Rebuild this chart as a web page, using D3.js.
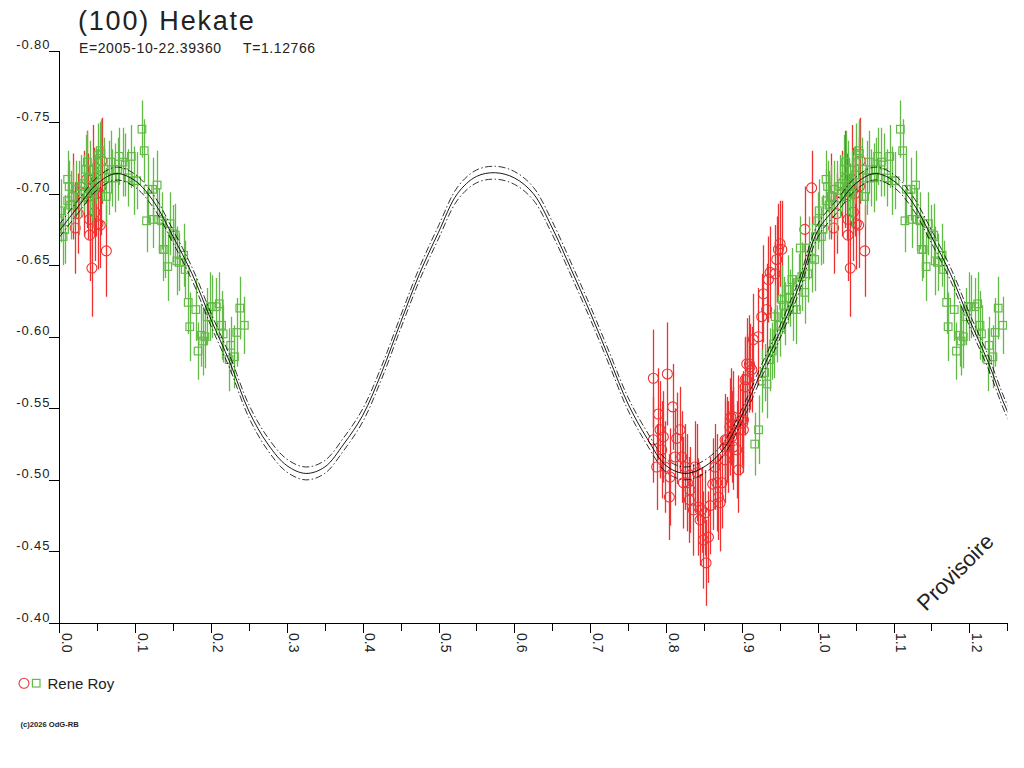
<!DOCTYPE html>
<html><head><meta charset="utf-8">
<script src="https://cdn.jsdelivr.net/npm/d3@7"></script>
<style>body{margin:0;background:#fff}svg{display:block}text{font-family:"Liberation Sans",Arial,sans-serif}</style>
</head><body><svg id="c" width="1024" height="768"></svg>
<script>
// ---------- texts ----------
const titleText = "(100) Hekate";
const epochText = "E=2005-10-22.39360";
const periodText = "T=1.12766";
const observerName = "Rene Roy";
const watermark = "Provisoire";
const copyright = "(c)2026 OdG-RB";

// ---------- ticks ----------
const yTickValues = [-0.80,-0.75,-0.70,-0.65,-0.60,-0.55,-0.50,-0.45,-0.40];
const xTickValues = [0,0.05,0.1,0.15,0.2,0.25,0.3,0.35,0.4,0.45,0.5,0.55,0.6,0.65,0.7,0.75,0.8,0.85,0.9,0.95,1.0,1.05,1.1,1.15,1.2,1.25];
const xTickLabels = ["0.0","0.1","0.2","0.3","0.4","0.5","0.6","0.7","0.8","0.9","1.0","1.1","1.2"];

// ---------- fitted curve ----------
const curvePhase = [0,0.025,0.05,0.075,0.1,0.125,0.15,0.175,0.2,0.225,0.25,0.275,0.3,0.325,0.35,0.375,0.4,0.425,0.45,0.475,0.5,0.525,0.55,0.575,0.6,0.625,0.65,0.675,0.7,0.725,0.75,0.775,0.8,0.825,0.85,0.875,0.9,0.925,0.95,0.975,1.0];
const curveMag = [-0.674,-0.691,-0.707,-0.714,-0.709,-0.694,-0.670,-0.644,-0.612,-0.582,-0.548,-0.525,-0.510,-0.5045,-0.509,-0.525,-0.545,-0.575,-0.610,-0.644,-0.673,-0.700,-0.712,-0.7146,-0.711,-0.700,-0.676,-0.647,-0.617,-0.585,-0.553,-0.529,-0.510,-0.5045,-0.509,-0.521,-0.545,-0.575,-0.603,-0.635,-0.674];
const curveSpread = 0.0045;

// ---------- observations: session 1 (green squares) ----------
const greenPhase = [0.000,0.002,0.005,0.007,0.011,0.011,0.013,0.015,0.018,0.022,0.026,0.029,0.032,0.035,0.037,0.040,0.043,0.045,0.047,0.049,0.051,0.054,0.055,0.059,0.062,0.065,0.068,0.070,0.074,0.077,0.079,0.084,0.087,0.091,0.095,0.098,0.102,0.109,0.112,0.115,0.117,0.123,0.124,0.129,0.131,0.135,0.137,0.139,0.143,0.146,0.150,0.153,0.155,0.158,0.164,0.166,0.170,0.172,0.180,0.183,0.187,0.189,0.192,0.195,0.199,0.202,0.207,0.211,0.214,0.216,0.224,0.226,0.231,0.234,0.238,0.244,
0.917,0.922,0.926,0.930,0.933,0.937,0.940,0.942,0.944,0.946,0.950,0.953,0.955,0.957,0.961,0.963,0.966,0.968,0.972,0.975,0.977,0.979,0.983,0.987,0.988,0.992,0.996,0.997];
const greenMag = [-0.681,-0.688,-0.670,-0.675,-0.695,-0.710,-0.705,-0.692,-0.698,-0.703,-0.697,-0.705,-0.707,-0.717,-0.722,-0.711,-0.701,-0.700,-0.705,-0.713,-0.727,-0.730,-0.728,-0.717,-0.698,-0.711,-0.722,-0.711,-0.711,-0.717,-0.726,-0.722,-0.720,-0.711,-0.726,-0.709,-0.709,-0.745,-0.730,-0.681,-0.703,-0.703,-0.682,-0.706,-0.682,-0.681,-0.661,-0.661,-0.649,-0.679,-0.672,-0.671,-0.653,-0.652,-0.657,-0.647,-0.624,-0.607,-0.619,-0.590,-0.601,-0.597,-0.600,-0.614,-0.621,-0.621,-0.621,-0.623,-0.608,-0.602,-0.584,-0.594,-0.586,-0.603,-0.620,-0.608,
-0.525,-0.535,-0.569,-0.575,-0.567,-0.584,-0.590,-0.595,-0.614,-0.602,-0.608,-0.626,-0.622,-0.616,-0.633,-0.627,-0.640,-0.619,-0.619,-0.638,-0.662,-0.642,-0.631,-0.644,-0.662,-0.655,-0.654,-0.670];
const greenErr = [0.020,0.022,0.020,0.024,0.022,0.020,0.018,0.024,0.022,0.020,0.026,0.022,0.020,0.024,0.022,0.026,0.020,0.024,0.022,0.020,0.022,0.020,0.024,0.022,0.020,0.026,0.022,0.020,0.024,0.022,0.020,0.024,0.022,0.020,0.022,0.024,0.020,0.020,0.022,0.022,0.024,0.022,0.020,0.024,0.022,0.020,0.022,0.020,0.024,0.022,0.020,0.022,0.024,0.020,0.022,0.020,0.022,0.024,0.022,0.020,0.022,0.024,0.022,0.020,0.024,0.022,0.020,0.022,0.024,0.020,0.022,0.020,0.022,0.024,0.022,0.020,
0.022,0.024,0.022,0.020,0.024,0.022,0.020,0.024,0.022,0.020,0.022,0.024,0.020,0.022,0.024,0.020,0.022,0.022,0.024,0.020,0.022,0.024,0.022,0.020,0.022,0.024,0.022,0.020];

// ---------- observations: session 2 (red circles) ----------
const redPhase = [0.018,0.021,0.025,0.032,0.036,0.038,0.040,0.040,0.043,0.045,0.046,0.047,0.049,0.051,0.054,0.055,0.056,0.062,
0.7833,0.8018,0.8088,0.7899,0.7921,0.7833,0.7965,0.7943,0.7877,0.7987,0.8053,0.8044,0.8141,0.8185,0.8119,0.8207,0.8251,0.8229,0.8282,0.8317,0.8383,0.8414,0.8308,0.8361,0.8427,0.8471,0.8449,0.8515,0.8493,0.8559,0.8528,0.8581,0.8616,0.8647,0.8669,0.8691,0.8735,0.8713,0.8779,0.8823,0.8854,0.8889,0.8867,0.8933,0.8955,0.8977,0.9021,0.9043,0.9065,0.9100,0.9131,0.8779,
0.8778,0.8800,0.8844,0.8888,0.8888,0.8954,0.8998,0.9020,0.9064,0.9042,0.9108,0.9152,0.9218,0.9262,0.9328,0.9284,0.9350,0.9372,0.9438,0.9460,0.9482,0.9526,0.9504,0.983,0.992];
const redMag = [-0.698,-0.676,-0.686,-0.700,-0.710,-0.698,-0.671,-0.682,-0.648,-0.716,-0.702,-0.687,-0.700,-0.679,-0.678,-0.705,-0.723,-0.660,
-0.571,-0.574,-0.551,-0.546,-0.535,-0.528,-0.530,-0.521,-0.509,-0.509,-0.502,-0.488,-0.529,-0.535,-0.516,-0.516,-0.509,-0.498,-0.498,-0.493,-0.509,-0.505,-0.486,-0.479,-0.481,-0.479,-0.472,-0.477,-0.458,-0.460,-0.442,-0.482,-0.497,-0.509,-0.498,-0.488,-0.498,-0.484,-0.514,-0.523,-0.544,-0.535,-0.530,-0.521,-0.507,-0.535,-0.542,-0.570,-0.581,-0.581,-0.577,-0.528,
-0.523,-0.528,-0.537,-0.544,-0.523,-0.539,-0.542,-0.535,-0.570,-0.565,-0.579,-0.598,-0.600,-0.614,-0.619,-0.630,-0.640,-0.645,-0.644,-0.654,-0.661,-0.661,-0.665,-0.675,-0.704];
const redErr = [0.030,0.032,0.028,0.030,0.034,0.030,0.032,0.030,0.034,0.032,0.030,0.034,0.030,0.032,0.030,0.034,0.030,0.032,
0.034,0.036,0.030,0.032,0.034,0.030,0.032,0.034,0.030,0.032,0.034,0.030,0.032,0.030,0.034,0.032,0.030,0.032,0.034,0.030,0.032,0.034,0.030,0.032,0.034,0.030,0.032,0.030,0.034,0.032,0.030,0.034,0.032,0.030,0.034,0.030,0.032,0.034,0.030,0.032,0.034,0.030,0.032,0.034,0.030,0.032,0.034,0.030,0.032,0.034,0.030,0.032,
0.032,0.030,0.034,0.032,0.030,0.034,0.032,0.030,0.032,0.034,0.030,0.032,0.034,0.030,0.032,0.034,0.030,0.032,0.034,0.030,0.032,0.034,0.030,0.030,0.026];

// ---------- layout ----------
const svg = d3.select("#c");
const X0 = 59.3, X1 = 1007.3, Y0 = 50.5, Y1 = 623;
const x = d3.scaleLinear().domain([0, 1.25]).range([X0, X1]);
const y = d3.scaleLinear().domain([-0.80, -0.40]).range([Y0, Y1]);
const GREEN = "#63bb47", RED = "#ee3232", INK = "#222";

svg.append("defs").append("clipPath").attr("id","plot")
  .append("rect").attr("x",X0).attr("y",0).attr("width",X1-X0).attr("height",Y1);

// repeat phases 0..0.25 beyond 1
function build(ph, mg, er) {
  const pts = ph.map((p,i)=>({p, m:mg[i], e:er[i]}));
  return pts.flatMap(d => d.p < 0.25 ? [d, {p:d.p+1, m:d.m, e:d.e}] : [d]);
}
const greenPts = build(greenPhase, greenMag, greenErr);
const redPts = build(redPhase, redMag, redErr);

const dataG = svg.append("g").attr("clip-path","url(#plot)");
function drawSeries(pts, color, shape) {
  const g = dataG.append("g");
  g.selectAll("line").data(pts).join("line")
    .attr("x1", d=>Math.round(x(d.p))+0.5).attr("x2", d=>Math.round(x(d.p))+0.5)
    .attr("y1", d=>y(d.m-d.e)).attr("y2", d=>y(d.m+d.e))
    .attr("stroke", color).attr("stroke-width", 1.3);
  if (shape === "circle") {
    g.selectAll("circle").data(pts).join("circle")
      .attr("cx", d=>x(d.p)).attr("cy", d=>y(d.m)).attr("r", 5)
      .attr("fill","none").attr("stroke", color).attr("stroke-width", 1.1);
  } else {
    g.selectAll("rect").data(pts).join("rect")
      .attr("x", d=>x(d.p)-3.8).attr("y", d=>y(d.m)-3.8).attr("width",7.6).attr("height",7.6)
      .attr("fill","none").attr("stroke", color).attr("stroke-width", 1.2);
  }
}
drawSeries(redPts, RED, "circle");
drawSeries(greenPts, GREEN, "square");

// fitted curve, repeated after phase 1
const curvePts = curvePhase.map((p,i)=>({p, m:curveMag[i]}));
const curveExt = curvePts.concat(curvePts.filter(d=>d.p>0 && d.p<=0.3).map(d=>({p:d.p+1, m:d.m})));
const line = d3.line().x(d=>x(d.p)).y(d=>y(d.m)).curve(d3.curveCatmullRom);
const cg = svg.append("g").attr("clip-path","url(#plot)").attr("fill","none").attr("stroke","#000");
cg.append("path").attr("d", line(curveExt)).attr("stroke-width",0.9);
[-curveSpread, curveSpread].forEach(o=>{
  cg.append("path").attr("d", line(curveExt.map(d=>({p:d.p, m:d.m+o}))))
    .attr("stroke-width",0.8).attr("stroke-dasharray","7,2.5,1.5,2.5");
});

// ---------- axes ----------
const yAxis = d3.axisLeft(y).tickValues(yTickValues).tickSize(10).tickSizeOuter(0)
  .tickFormat(d=>d.toFixed(2));
const ya = svg.append("g").attr("transform",`translate(${X0},0)`).call(yAxis);
ya.attr("font-family",null).attr("font-size",null);
ya.select(".domain").attr("stroke","#000").attr("shape-rendering","crispEdges");
ya.selectAll(".tick line").attr("stroke","#000").attr("shape-rendering","crispEdges");
ya.selectAll(".tick text").attr("x",-9).attr("y",-2).attr("dy",0)
  .attr("fill",INK).style("font-size","13px").style("letter-spacing","0.9px")
  .style("font-family",'"Liberation Sans",Arial,sans-serif');

const xAxis = d3.axisBottom(x).tickValues(xTickValues).tickSize(9).tickSizeOuter(0)
  .tickFormat(d=>{ const k = Math.round(d*20); return k%2===0 ? xTickLabels[k/2] : ""; });
const xa = svg.append("g").attr("transform",`translate(0,${Y1})`).call(xAxis);
xa.attr("font-family",null).attr("font-size",null);
xa.select(".domain").attr("stroke","#000").attr("shape-rendering","crispEdges");
xa.selectAll(".tick line").attr("stroke","#000").attr("shape-rendering","crispEdges")
  .attr("y2", d=> Math.round(d*20)%2===0 ? 10 : 8);
xa.selectAll(".tick text").attr("y",0).attr("dy",0)
  .attr("transform","translate(2,10) rotate(90)")
  .attr("text-anchor","start").attr("fill",INK)
  .style("font-size","14px").style("font-family",'"Liberation Sans",Arial,sans-serif');

// ---------- titles ----------
svg.append("text").attr("x",78).attr("y",30).text(titleText)
  .attr("fill",INK).style("font-size","27px").style("letter-spacing","1.8px");
svg.append("text").attr("x",79).attr("y",53).text(epochText)
  .attr("fill",INK).style("font-size","14px").style("letter-spacing","0.6px");
svg.append("text").attr("x",243).attr("y",53).text(periodText)
  .attr("fill",INK).style("font-size","14px").style("letter-spacing","0.6px");

// watermark
svg.append("text").attr("transform","translate(926,612) rotate(-45)").text(watermark)
  .attr("fill",INK).style("font-size","22px");

// legend
svg.append("circle").attr("cx",24).attr("cy",683.3).attr("r",5)
  .attr("fill","none").attr("stroke",RED).attr("stroke-width",1.1);
svg.append("rect").attr("x",32.4).attr("y",679.4).attr("width",7.6).attr("height",7.6)
  .attr("fill","none").attr("stroke",GREEN).attr("stroke-width",1.2);
svg.append("text").attr("x",47.5).attr("y",688.5).text(observerName)
  .attr("fill",INK).style("font-size","15px");

svg.append("text").attr("x",20.5).attr("y",727).text(copyright)
  .attr("fill",INK).style("font-size","7.6px").style("font-weight","bold");
</script></body></html>
